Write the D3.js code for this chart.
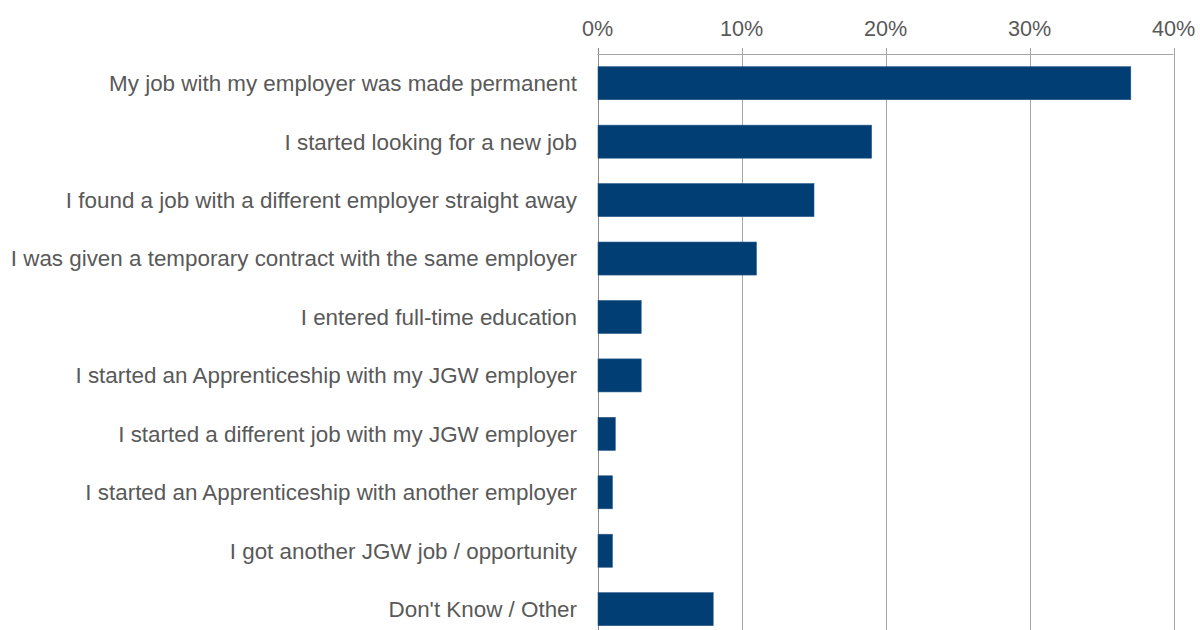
<!DOCTYPE html>
<html>
<head>
<meta charset="utf-8">
<script src="https://cdn.jsdelivr.net/npm/d3@7"></script>
<style>
  html, body { margin: 0; padding: 0; background: #fff; }
  svg { display: block; font-family: "Liberation Sans", Arial, sans-serif; }
</style>
</head>
<body>
<svg id="chart" width="1200" height="630"></svg>
<script>
// Outcomes after the placement ended (share of respondents, %)
const categories = [
  "My job with my employer was made permanent",
  "I started looking for a new job",
  "I found a job with a different employer straight away",
  "I was given a temporary contract with the same employer",
  "I entered full-time education",
  "I started an Apprenticeship with my JGW employer",
  "I started a different job with my JGW employer",
  "I started an Apprenticeship with another employer",
  "I got another JGW job / opportunity",
  "Don't Know / Other"
];
const values = [37, 19, 15, 11, 3, 3, 1.2, 1, 1, 8];
const tickValues = [0, 10, 20, 30, 40];
const tickLabels = ["0%", "10%", "20%", "30%", "40%"];

const svg = d3.select("#chart");
const plotLeft = 597.5, plotRight = 1173.5, plotTop = 54, plotBottom = 638.4;

const x = d3.scaleLinear().domain([0, 40]).range([plotLeft, plotRight]);
const y = d3.scaleBand().domain(categories).range([plotTop, plotBottom])
  .paddingInner(0.435).paddingOuter(0.2175);

// vertical gridlines (zero line slightly darker)
svg.append("g").selectAll("line").data(tickValues).join("line")
  .attr("x1", d => Math.round(x(d)) + 0.5).attr("x2", d => Math.round(x(d)) + 0.5)
  .attr("y1", plotTop - 6).attr("y2", 630)
  .attr("stroke", d => d === 0 ? "#8c8c8c" : "#a6a6a6")
  .attr("stroke-width", 1);

// top axis line
svg.append("line")
  .attr("x1", x(0)).attr("x2", x(40))
  .attr("y1", plotTop + 0.5).attr("y2", plotTop + 0.5)
  .attr("stroke", "#a6a6a6").attr("stroke-width", 1);

// tick labels
svg.append("g").selectAll("text").data(tickValues).join("text")
  .attr("x", d => x(d)).attr("y", 36)
  .attr("text-anchor", "middle")
  .attr("font-size", 21.6).attr("fill", "#595959")
  .text((d, i) => tickLabels[i]);

// bars
svg.append("g").selectAll("rect").data(values).join("rect")
  .attr("x", x(0) + 0.5)
  .attr("y", (d, i) => y(categories[i]))
  .attr("width", d => x(d) - x(0))
  .attr("height", y.bandwidth())
  .attr("fill", "#003e74")
  .attr("stroke", "#2a5788").attr("stroke-width", 0.6);

// category labels
svg.append("g").selectAll("text").data(categories).join("text")
  .attr("x", 577)
  .attr("y", d => y(d) + y.bandwidth() / 2)
  .attr("dy", "0.35em")
  .attr("text-anchor", "end")
  .attr("font-size", 22.4).attr("fill", "#595959")
  .text(d => d);
</script>
</body>
</html>
